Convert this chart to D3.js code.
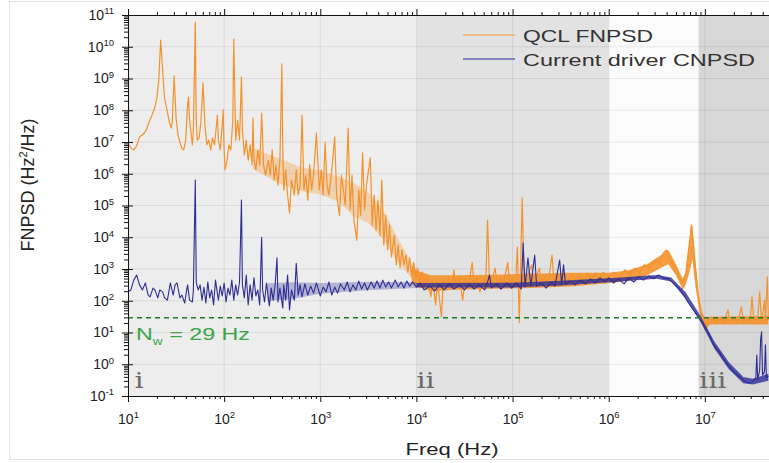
<!DOCTYPE html>
<html>
<head>
<meta charset="utf-8">
<script src="https://cdn.jsdelivr.net/npm/d3@7"></script>
<style>
  body { margin: 0; background: #fff; }
  svg { display: block; font-family: "Liberation Sans", Arial, sans-serif; }
</style>
</head>
<body>
<script>

// decade ticks of both axes
const xDecades = [1e1, 1e2, 1e3, 1e4, 1e5, 1e6, 1e7, 1e8];
const xLabelled = [1e1, 1e2, 1e3, 1e4, 1e5, 1e6, 1e7];
const yDecades = [1e-1, 1e0, 1e1, 1e2, 1e3, 1e4, 1e5, 1e6, 1e7, 1e8, 1e9, 1e10, 1e11];

// shaded regions i / ii / (none) / iii, edges in Hz
const regionEdges = [10, 1e4, 1e6, 8.6e6, 1e8];
const regionNames = ['i', 'ii', '', 'iii'];
const regionLabelFreq = [11.7, 1e4, 8.7e6];

// white frequency noise level
const noiseLevel = 29;

// legend
const seriesNames = ['QCL FNPSD', 'Current driver CNPSD'];

// QCL FNPSD, pairs of [log10 f (Hz), log10 S (Hz^2/Hz)]
const qclLog = [
  [1.00,6.97],[1.03,6.81],[1.06,6.75],[1.09,6.88],[1.12,7.16],[1.16,7.25],[1.19,7.38],[1.22,7.63],
  [1.25,7.85],[1.28,8.10],[1.30,8.38],[1.32,8.95],[1.34,10.21],[1.36,9.27],[1.38,8.38],[1.41,7.94],
  [1.43,7.63],[1.45,7.44],[1.46,7.63],[1.48,9.08],[1.50,7.76],[1.52,7.22],[1.54,7.00],[1.56,6.81],
  [1.58,6.75],[1.60,7.06],[1.62,8.17],[1.63,8.41],[1.64,7.69],[1.67,6.91],[1.68,7.38],[1.70,10.78],
  [1.71,7.69],[1.72,7.06],[1.74,7.13],[1.76,7.69],[1.78,8.86],[1.80,7.54],[1.82,6.91],[1.84,7.06],
  [1.86,6.75],[1.88,7.13],[1.90,6.91],[1.93,7.85],[1.94,7.06],[1.96,6.75],[1.98,7.54],[1.99,8.01],
  [2.00,6.75],[2.01,6.12],[2.03,6.43],[2.05,6.91],[2.07,6.75],[2.09,7.69],[2.10,10.24],[2.12,7.06],
  [2.14,7.69],[2.16,7.06],[2.18,9.05],[2.19,7.38],[2.21,6.59],[2.23,7.06],[2.25,6.43],[2.27,6.91],
  [2.29,6.28],[2.30,7.76],[2.31,6.43],[2.33,6.12],[2.35,6.75],[2.37,6.28],[2.39,7.91],[2.41,6.28],
  [2.43,5.96],[2.46,6.43],[2.48,5.96],[2.50,6.75],[2.52,5.80],[2.54,6.28],[2.56,5.64],[2.58,6.43],
  [2.60,9.46],[2.61,6.75],[2.62,5.49],[2.64,6.12],[2.66,5.33],[2.68,4.76],[2.70,5.80],[2.73,5.33],
  [2.75,6.12],[2.77,5.33],[2.79,5.64],[2.81,7.85],[2.83,5.49],[2.85,5.96],[2.87,5.17],[2.89,6.28],
  [2.91,5.49],[2.93,5.96],[2.96,7.28],[2.99,5.49],[3.01,6.12],[3.03,5.33],[3.05,7.00],[3.07,5.64],
  [3.09,5.33],[3.12,6.12],[3.15,7.16],[3.17,5.33],[3.20,4.69],[3.22,5.96],[3.26,5.02],[3.29,7.44],
  [3.31,4.86],[3.33,5.96],[3.35,4.54],[3.38,3.91],[3.40,5.49],[3.42,4.69],[3.44,6.66],[3.46,4.86],
  [3.48,5.64],[3.52,6.50],[3.54,4.38],[3.56,5.33],[3.58,4.22],[3.60,5.17],[3.62,4.06],[3.64,5.80],
  [3.66,3.76],[3.68,4.69],[3.70,3.60],[3.72,4.38],[3.74,3.38],[3.77,4.06],[3.79,3.13],[3.81,3.76],
  [3.83,3.03],[3.85,3.60],[3.87,3.13],[3.89,3.44],[3.91,2.90],[3.93,3.35],[3.95,2.78],[3.97,3.21],
  [4.00,2.72],[4.01,3.03],[4.04,2.59],[4.06,2.90],[4.09,2.50],[4.11,2.78],[4.15,2.12],[4.17,2.65],
  [4.20,1.87],[4.22,2.59],[4.26,1.49],[4.28,2.65],[4.31,2.34],[4.34,2.75],[4.37,2.40],[4.39,2.97],
  [4.41,2.46],[4.45,2.72],[4.48,2.02],[4.51,2.69],[4.54,2.43],[4.58,3.21],[4.60,2.50],[4.63,2.72],
  [4.66,2.28],[4.70,2.69],[4.72,2.46],[4.74,4.54],[4.76,2.53],[4.79,2.72],[4.82,3.03],[4.84,2.43],
  [4.87,2.72],[4.90,2.46],[4.95,3.21],[4.97,2.50],[5.00,2.75],[5.03,2.53],[5.05,3.69],[5.06,2.53],
  [5.07,1.31],[5.08,2.65],[5.10,5.24],[5.12,2.56],[5.15,2.78],[5.20,3.13],[5.22,2.53],[5.25,2.78],
  [5.28,3.03],[5.30,2.53],[5.33,2.78],[5.37,2.56],[5.41,3.44],[5.43,2.59],[5.47,2.81],[5.51,2.56],
  [5.54,2.90],[5.57,2.59],[5.61,2.84],[5.65,2.62],[5.69,2.84],[5.74,2.62],[5.78,2.87],[5.82,2.65],
  [5.86,2.87],[5.90,2.69],[5.94,2.90],[6.00,2.72],[6.05,2.90],[6.11,2.75],[6.17,2.97],[6.22,2.81],
  [6.27,3.03],[6.32,2.87],[6.37,3.13],[6.43,3.03],[6.48,3.28],[6.53,3.21],[6.57,3.51],[6.60,3.60],
  [6.63,3.35],[6.68,3.03],[6.72,2.81],[6.77,2.56],[6.80,2.81],[6.83,3.60],[6.86,4.38],[6.88,3.76],
  [6.91,2.81],[6.94,1.96],[6.97,1.46],[7.00,1.15],[7.03,1.33],[7.07,1.49],[7.11,1.33],[7.16,1.46],
  [7.20,1.33],[7.24,1.71],[7.26,1.36],[7.30,1.46],[7.34,1.33],[7.38,1.80],[7.40,1.36],[7.44,1.46],
  [7.47,1.31],[7.49,2.12],[7.51,1.36],[7.55,1.46],[7.57,2.28],[7.59,1.33],[7.62,2.02],[7.63,1.39],
  [7.65,2.75],[7.66,1.39]
];

// bulk of the QCL trace below 10 kHz: [log10 f, low, high]
const qclLowBandLog = [
  [2.30,6.15,6.80],[2.60,5.65,6.45],[2.80,5.45,6.20],[3.00,5.35,6.10],[3.20,5.10,5.90],[3.35,4.65,5.70],
  [3.50,4.45,5.40],[3.65,3.95,4.90],[3.80,3.25,4.00],[3.95,2.70,3.20]
];

// dense noise band of the QCL trace: [log10 f, low, high]
const qclBandLog = [
  [3.95,2.55,3.10],[4.00,2.45,2.95],[4.15,2.30,2.80],[4.40,2.35,2.80],[4.80,2.38,2.82],[5.20,2.40,2.85],
  [5.60,2.45,2.88],[6.00,2.55,2.88],[6.20,2.62,2.95],[6.40,2.80,3.15],[6.55,3.05,3.45],[6.62,3.15,3.60],
  [6.70,2.80,3.15],[6.77,2.35,2.70],[6.80,2.50,2.90],[6.84,2.90,3.80],[6.87,3.30,4.40],[6.90,2.50,3.30],
  [6.93,1.90,2.30],[6.97,1.30,1.65],[7.00,1.05,1.45],[7.05,1.25,1.50],[7.66,1.25,1.52]
];

// current driver CNPSD, pairs of [log10 f, log10 S]
const driverLog = [
  [1.00,2.28],[1.03,2.34],[1.06,2.65],[1.09,2.81],[1.12,2.50],[1.15,2.34],[1.18,2.56],[1.21,2.18],
  [1.23,2.12],[1.26,2.40],[1.28,2.34],[1.31,2.09],[1.33,2.34],[1.36,2.28],[1.38,2.09],[1.41,2.02],
  [1.44,2.56],[1.47,2.18],[1.49,2.50],[1.51,2.56],[1.54,2.09],[1.56,2.18],[1.59,1.93],[1.61,2.34],
  [1.62,2.50],[1.64,2.02],[1.67,1.96],[1.68,2.34],[1.70,5.80],[1.71,2.56],[1.73,2.34],[1.75,2.50],
  [1.77,2.02],[1.79,2.43],[1.81,1.93],[1.83,2.59],[1.85,2.09],[1.87,2.34],[1.89,1.87],[1.91,2.65],
  [1.94,2.02],[1.96,2.46],[1.98,2.15],[2.00,2.56],[2.02,1.96],[2.04,2.40],[2.06,2.18],[2.08,2.65],
  [2.10,2.02],[2.12,2.50],[2.14,2.18],[2.16,2.59],[2.18,5.17],[2.19,2.50],[2.21,2.09],[2.23,2.81],
  [2.25,1.87],[2.27,2.50],[2.29,2.02],[2.31,2.72],[2.33,2.15],[2.35,2.34],[2.37,1.87],[2.39,4.00],
  [2.40,2.34],[2.42,1.96],[2.44,2.56],[2.47,1.84],[2.49,2.40],[2.51,2.02],[2.53,2.50],[2.55,3.35],
  [2.56,1.96],[2.58,2.40],[2.61,1.77],[2.62,2.50],[2.64,2.02],[2.66,2.81],[2.68,1.71],[2.70,2.34],
  [2.73,2.02],[2.75,3.18],[2.77,2.18],[2.79,2.50],[2.81,2.12],[2.84,2.53],[2.87,2.18],[2.90,2.46],
  [2.93,2.24],[2.96,2.56],[3.00,2.15],[3.03,2.43],[3.06,2.28],[3.09,2.59],[3.12,2.18],[3.15,2.43],
  [3.18,2.24],[3.21,2.53],[3.25,2.34],[3.28,2.59],[3.31,2.28],[3.34,2.50],[3.37,2.34],[3.40,2.62],
  [3.43,2.37],[3.46,2.56],[3.49,2.34],[3.53,2.59],[3.56,2.40],[3.59,2.62],[3.62,2.40],[3.65,2.65],
  [3.68,2.43],[3.71,2.59],[3.74,2.40],[3.78,2.65],[3.81,2.43],[3.84,2.59],[3.87,2.40],[3.90,2.62],
  [3.93,2.46],[3.96,2.59],[4.00,2.43],[4.04,2.56],[4.08,2.34],[4.14,2.46],[4.19,2.31],[4.24,2.50],
  [4.29,2.34],[4.34,2.53],[4.39,2.37],[4.45,2.50],[4.50,2.34],[4.55,2.53],[4.60,2.37],[4.65,2.50],
  [4.71,2.34],[4.74,2.59],[4.76,2.81],[4.78,2.40],[4.83,2.53],[4.88,2.37],[4.94,2.56],[4.99,2.40],
  [5.04,2.56],[5.09,2.37],[5.11,3.82],[5.13,2.43],[5.16,3.35],[5.19,2.46],[5.23,3.44],[5.25,2.46],
  [5.30,2.56],[5.35,2.40],[5.40,2.59],[5.44,2.46],[5.49,3.28],[5.51,2.50],[5.53,3.13],[5.55,2.53],
  [5.60,2.62],[5.65,2.50],[5.70,2.65],[5.76,2.53],[5.81,2.69],[5.86,2.56],[5.91,2.72],[5.96,2.59],
  [6.00,2.72],[6.05,2.56],[6.10,2.69],[6.16,2.53],[6.21,2.72],[6.26,2.59],[6.31,2.75],[6.36,2.65],
  [6.42,2.78],[6.47,2.69],[6.52,2.81],[6.57,2.72],[6.62,2.69],[6.68,2.53],[6.73,2.40],[6.78,2.18],
  [6.83,1.93],[6.88,1.71],[6.94,1.46],[6.99,1.21],[7.04,0.96],[7.09,0.61],[7.15,0.39],[7.20,0.13],
  [7.25,-0.06],[7.30,-0.24],[7.35,-0.37],[7.40,-0.50],[7.45,-0.59],[7.49,-0.56],[7.53,-0.43],[7.54,0.29],
  [7.55,-0.50],[7.57,-0.18],[7.58,0.77],[7.59,1.02],[7.60,-0.34],[7.62,-0.24],[7.63,0.61],[7.64,-0.43],
  [7.66,-0.37]
];

// bulk of the driver trace between 300 Hz and 10 kHz: [log10 f, low, high]
const driverLowBandLog = [
  [2.45,2.00,2.55],[2.70,2.05,2.58],[3.00,2.22,2.56],[3.50,2.33,2.60],[4.00,2.40,2.58]
];

// dense noise band of the driver trace: [log10 f, low, high]
const driverBandLog = [
  [4.00,2.42,2.56],[5.00,2.42,2.57],[5.50,2.48,2.63],[6.00,2.58,2.71],[6.50,2.69,2.81],[6.65,2.61,2.73],
  [6.80,2.06,2.27],[6.95,1.37,1.55],[7.10,0.49,0.71],[7.25,-0.16,0.06],[7.40,-0.60,-0.40],
  [7.50,-0.64,-0.46],[7.66,-0.52,-0.30]
];

// back to linear units
const toPoint = d => ({f: 10 ** d[0], s: 10 ** d[1]});
const toBand = d => ({f: 10 ** d[0], lo: 10 ** d[1], hi: 10 ** d[2]});
const qcl = qclLog.map(toPoint);
const driver = driverLog.map(toPoint);
const qclLowBand = qclLowBandLog.map(toBand);
const qclBand = qclBandLog.map(toBand);
const driverLowBand = driverLowBandLog.map(toBand);
const driverBand = driverBandLog.map(toBand);

const WIDTH = 769;
const HEIGHT = 463;
const PLOT = {left: 128, top: 15, bottom: 396, right: 801};

const orange = '#f4922c';
const blue = '#2e2d96';

const svg = d3.select('body').append('svg')
    .attr('width', WIDTH)
    .attr('height', HEIGHT);

// faint frame of the figure
svg.append('rect')
    .attr('x', 9.5).attr('y', 1.5)
    .attr('width', 780).attr('height', 458)
    .attr('fill', 'none')
    .attr('stroke', '#e2e2e2');

const x = d3.scaleLog().domain([10, 1e8]).range([PLOT.left, PLOT.right]);
const y = d3.scaleLog().domain([1e-1, 1e11]).range([PLOT.bottom, PLOT.top]);

svg.append('clipPath').attr('id', 'plotclip')
  .append('rect')
    .attr('x', PLOT.left).attr('y', PLOT.top)
    .attr('width', PLOT.right - PLOT.left).attr('height', PLOT.bottom - PLOT.top);

const plot = svg.append('g').attr('clip-path', 'url(#plotclip)');

// shaded regions
const regionColors = ['#ededed', '#e2e2e2', '#fbfbfb', '#d7d7d7'];
plot.selectAll('rect.region')
    .data(regionNames)
    .enter().append('rect')
    .attr('class', 'region')
    .attr('x', (d, i) => x(regionEdges[i]))
    .attr('y', PLOT.top)
    .attr('width', (d, i) => x(regionEdges[i + 1]) - x(regionEdges[i]))
    .attr('height', PLOT.bottom - PLOT.top)
    .attr('fill', (d, i) => regionColors[i]);

// grid lines at every decade
plot.selectAll('line.hgrid')
    .data(yDecades.slice(1, -1))
    .enter().append('line')
    .attr('x1', PLOT.left).attr('x2', PLOT.right)
    .attr('y1', d => y(d)).attr('y2', d => y(d))
    .attr('stroke', 'rgba(0,0,0,0.08)');

plot.selectAll('line.vgrid')
    .data(xDecades.slice(1))
    .enter().append('line')
    .attr('x1', d => x(d)).attr('x2', d => x(d))
    .attr('y1', PLOT.top).attr('y2', PLOT.bottom)
    .attr('stroke', 'rgba(0,0,0,0.08)');

// the two traces
const band = d3.area()
    .x(d => x(d.f))
    .y0(d => y(d.lo))
    .y1(d => y(d.hi));

const line = d3.line()
    .x(d => x(d.f))
    .y(d => y(d.s));

plot.append('path').datum(qclLowBand)
    .attr('d', band)
    .attr('fill', orange)
    .attr('opacity', 0.32);

plot.append('path').datum(qclBand)
    .attr('d', band)
    .attr('fill', orange)
    .attr('opacity', 0.9);

plot.append('path').datum(qcl)
    .attr('d', line)
    .attr('fill', 'none')
    .attr('stroke', orange)
    .attr('stroke-width', 1.2)
    .attr('stroke-linejoin', 'round');

plot.append('path').datum(driverLowBand)
    .attr('d', band)
    .attr('fill', blue)
    .attr('opacity', 0.3);

plot.append('path').datum(driverBand)
    .attr('d', band)
    .attr('fill', blue)
    .attr('opacity', 0.8);

plot.append('path').datum(driver)
    .attr('d', line)
    .attr('fill', 'none')
    .attr('stroke', blue)
    .attr('stroke-width', 1.1)
    .attr('stroke-linejoin', 'round');

// white noise level
plot.append('line')
    .attr('x1', PLOT.left).attr('x2', PLOT.right)
    .attr('y1', y(noiseLevel)).attr('y2', y(noiseLevel))
    .attr('stroke', '#1f7d2a')
    .attr('stroke-width', 1.4)
    .attr('stroke-dasharray', '5,4');

const nw = svg.append('text')
    .attr('x', 136).attr('y', 340)
    .attr('fill', '#3aa547')
    .attr('font-size', '17px')
    .attr('textLength', 114)
    .attr('lengthAdjust', 'spacingAndGlyphs');
nw.append('tspan').text('N');
nw.append('tspan').attr('font-size', '10px').attr('dy', 5).text('w');
nw.append('tspan').attr('dy', -5).text(' = ' + noiseLevel + ' Hz');

// region numerals
svg.selectAll('text.region')
    .data(regionLabelFreq)
    .enter().append('text')
    .attr('class', 'region')
    .attr('transform', d => 'translate(' + x(d) + ',388) scale(1.3,1)')
    .attr('font-family', '"DejaVu Serif", serif')
    .attr('font-size', '22px')
    .attr('fill', '#6a6a6a')
    .text((d, i) => regionNames.filter(n => n)[i]);

// minor tick positions
const minorX = [];
xDecades.forEach(d => { for (let k = 2; k <= 9; k++) minorX.push(d * k); });
const minorY = [];
yDecades.slice(0, -1).forEach(d => { for (let k = 2; k <= 9; k++) minorY.push(d * k); });

function powerLabels(g) {
  g.selectAll('.tick text').each(function(d) {
    const t = d3.select(this).text(null);
    t.append('tspan').text('10');
    t.append('tspan')
      .attr('dy', '-0.6em')
      .attr('font-size', '9.5px')
      .text(Math.round(Math.log10(d)));
  });
}

function styleAxis(g) {
  g.selectAll('path, line').attr('stroke', '#111');
  g.selectAll('text').attr('fill', '#222').attr('font-size', '14px')
    .attr('font-family', '"Liberation Sans", Arial, sans-serif');
}

// bottom axis
svg.append('g')
    .attr('transform', 'translate(0,' + PLOT.bottom + ')')
    .call(d3.axisBottom(x).tickValues(minorX).tickFormat('').tickSize(3).tickSizeOuter(0))
    .call(styleAxis);
svg.append('g')
    .attr('transform', 'translate(0,' + PLOT.bottom + ')')
    .call(d3.axisBottom(x).tickValues(xDecades).tickFormat('').tickSize(6).tickSizeOuter(0))
    .call(styleAxis);
svg.append('g')
    .attr('transform', 'translate(0,' + PLOT.bottom + ')')
    .call(d3.axisBottom(x).tickValues(xLabelled).tickSize(0).tickPadding(18))
    .call(styleAxis)
    .call(g => g.select('.domain').remove())
    .call(powerLabels);

// top axis
svg.append('g')
    .attr('transform', 'translate(0,' + PLOT.top + ')')
    .call(d3.axisTop(x).tickValues(minorX).tickFormat('').tickSize(3).tickSizeOuter(0))
    .call(styleAxis);
svg.append('g')
    .attr('transform', 'translate(0,' + PLOT.top + ')')
    .call(d3.axisTop(x).tickValues(xDecades).tickFormat('').tickSize(6).tickSizeOuter(0))
    .call(styleAxis);

// left axis
svg.append('g')
    .attr('transform', 'translate(' + PLOT.left + ',0)')
    .call(d3.axisLeft(y).tickValues(minorY).tickFormat('').tickSize(4).tickSizeOuter(0))
    .call(styleAxis);
svg.append('g')
    .attr('transform', 'translate(' + PLOT.left + ',0)')
    .call(d3.axisLeft(y).tickValues(yDecades).tickSize(6).tickSizeOuter(0).tickPadding(8))
    .call(styleAxis)
    .call(powerLabels);
svg.append('g')
    .attr('transform', 'translate(' + PLOT.left + ',0)')
    .call(d3.axisRight(y).tickValues(yDecades).tickFormat('').tickSize(5).tickSizeOuter(0))
    .call(styleAxis)
    .call(g => g.select('.domain').remove());

// axis titles
svg.append('text')
    .attr('x', 452).attr('y', 455)
    .attr('text-anchor', 'middle')
    .attr('font-size', '17px')
    .attr('fill', '#222')
    .attr('textLength', 93)
    .attr('lengthAdjust', 'spacingAndGlyphs')
    .text('Freq (Hz)');

const yTitle = svg.append('text')
    .attr('transform', 'translate(34,185) rotate(-90)')
    .attr('text-anchor', 'middle')
    .attr('font-size', '18px')
    .attr('fill', '#222');
yTitle.append('tspan').text('FNPSD (Hz');
yTitle.append('tspan').attr('font-size', '11px').attr('dy', -7).text('2');
yTitle.append('tspan').attr('dy', 7).text('/Hz)');

// legend
const legendColors = ['#f5ad66', '#6463b3'];
const legend = svg.selectAll('g.legend')
    .data(seriesNames)
    .enter().append('g')
    .attr('class', 'legend')
    .attr('transform', (d, i) => 'translate(463,' + (35 + i * 24) + ')');

legend.append('line')
    .attr('x1', 0).attr('x2', 52)
    .attr('stroke', (d, i) => legendColors[i])
    .attr('stroke-width', 1.3);

legend.append('text')
    .attr('x', 60).attr('y', 7)
    .attr('font-size', '17px')
    .attr('fill', '#333')
    .attr('textLength', (d, i) => [130, 232][i])
    .attr('lengthAdjust', 'spacingAndGlyphs')
    .text(d => d);

</script>
</body>
</html>
